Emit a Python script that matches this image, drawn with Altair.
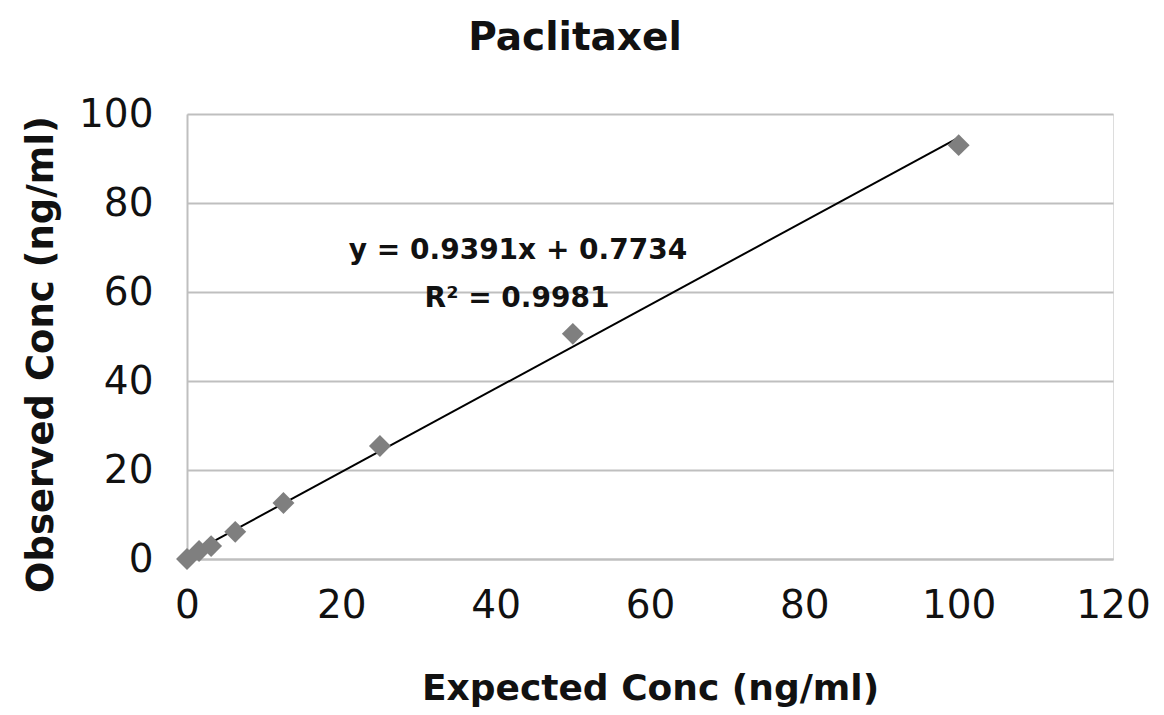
import altair as alt
import pandas as pd

expected = [0, 1.5625, 3.125, 6.25, 12.5, 25, 50, 100]
observed = [0.0, 1.8, 2.9, 6.1, 12.6, 25.4, 50.6, 93.0]
x_ticks = [0, 20, 40, 60, 80, 100, 120]
y_ticks = [0, 20, 40, 60, 80, 100]
eq_lines = ["y = 0.9391x + 0.7734", "R\u00b2 = 0.9981"]

df = pd.DataFrame({"expected": expected, "observed": observed})
FONT = "DejaVu Sans"
TXT = "#111111"

xenc = alt.X("expected:Q", scale=alt.Scale(domain=[0, 120], nice=False),
             axis=alt.Axis(values=x_ticks, title="Expected Conc (ng/ml)", grid=False,
                           ticks=False, domainColor="#bfbfbf", domainWidth=2,
                           labelFlush=False, labelFontSize=39, labelColor=TXT, labelPadding=27,
                           titleFontSize=36, titleFontWeight="bold", titleColor=TXT,
                           titlePadding=46, labelFont=FONT, titleFont=FONT))
yenc = alt.Y("observed:Q", scale=alt.Scale(domain=[0, 100], nice=False),
             axis=alt.Axis(values=y_ticks, title="Observed Conc (ng/ml)", grid=True,
                           gridColor="#bfbfbf", gridWidth=2, ticks=False,
                           domainColor="#bfbfbf", domainWidth=2, labelFlush=False,
                           labelFontSize=39, labelColor=TXT, labelPadding=34,
                           titleFontSize=37, titleFontWeight="bold", titleColor=TXT,
                           titlePadding=18, titleY=240, labelFont=FONT, titleFont=FONT))

base = alt.Chart(df)
points = base.mark_point(shape="diamond", filled=True, color="#7f7f7f", size=480, opacity=1).encode(x=xenc, y=yenc)
trend = base.transform_regression("expected", "observed", extent=[0, 100]).mark_line(
    color="#000000", strokeWidth=2).encode(x="expected:Q", y="observed:Q")

eq = alt.Chart(pd.DataFrame({"t": [eq_lines[0]]})).mark_text(
    font=FONT, fontSize=28, fontWeight="bold", color=TXT).encode(
    text="t:N", x=alt.value(331), y=alt.value(137))
r2 = alt.Chart(pd.DataFrame({"t": [eq_lines[1]]})).mark_text(
    font=FONT, fontSize=28, fontWeight="bold", color=TXT).encode(
    text="t:N", x=alt.value(330), y=alt.value(185))

chart = alt.layer(trend, points, eq, r2).properties(
    width=926, height=445,
    padding={"left": 187, "top": 114, "right": 51, "bottom": 156},
    autosize=alt.AutoSizeParams(type="none"),
    title=alt.TitleParams("Paclitaxel", font=FONT, fontSize=39, fontWeight="bold",
                          color=TXT, anchor="middle", dx=-75, offset=37),
).configure_view(stroke=None).configure(background="white")

chart.save("out.html", embed_options={"renderer": "svg", "actions": False})
